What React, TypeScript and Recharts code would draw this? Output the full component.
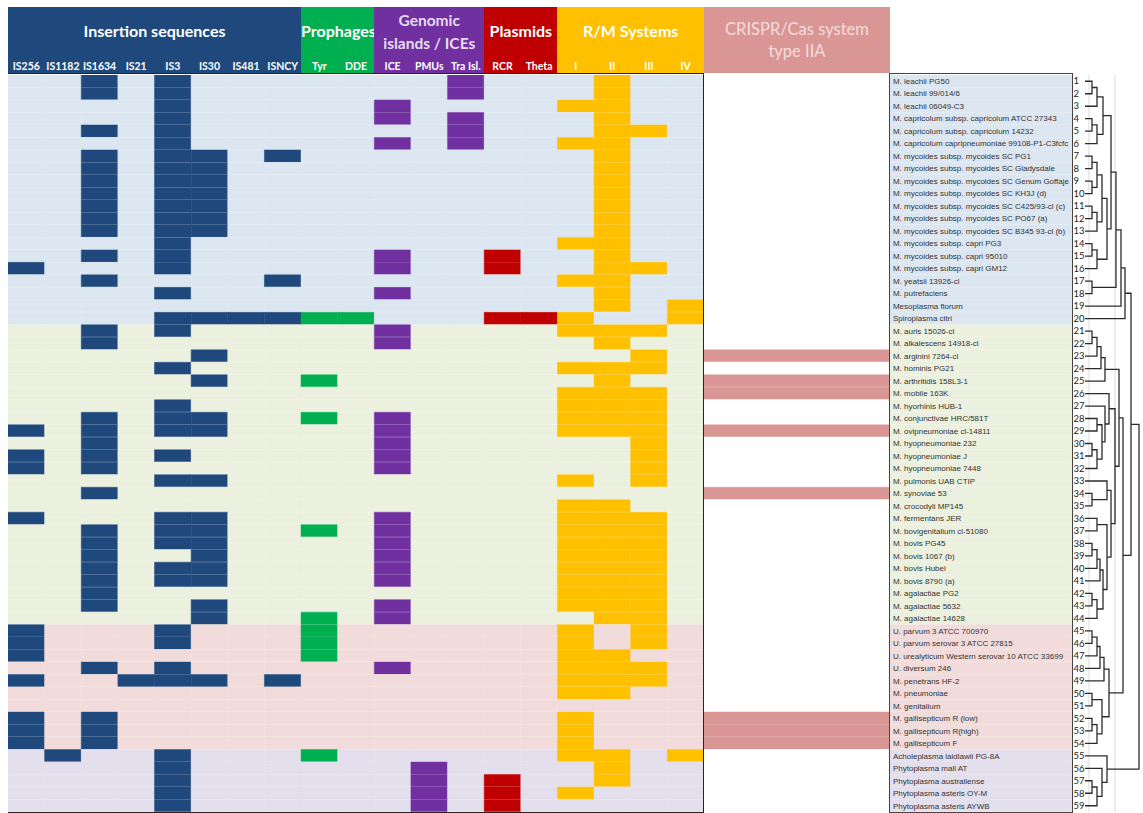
import React from 'react';
import { BarChart, Bar, XAxis, YAxis, Cell, LabelList, LineChart, Line, ReferenceLine } from 'recharts';

const organisms = [
  'M.  leachii PG50', 'M.  leachii 99/014/6', 'M.  leachii 06049-C3',
  'M.  capricolum subsp. capricolum ATCC 27343', 'M.  capricolum subsp. capricolum 14232',
  'M.  capricolum capripneumoniae 99108-P1-C3fcfc', 'M.  mycoides subsp. mycoides SC PG1',
  'M.  mycoides subsp. mycoides SC Gladysdale', 'M.  mycoides subsp. mycoides SC Genum Goffaje',
  'M.  mycoides subsp. mycoides SC KH3J (d)', 'M.  mycoides subsp. mycoides SC C425/93-cl (c)',
  'M.  mycoides subsp. mycoides SC PO67 (a)', 'M.  mycoides subsp. mycoides SC B345 93-cl (b)',
  'M.  mycoides subsp. capri PG3', 'M.  mycoides subsp. capri 95010', 'M.  mycoides subsp. capri GM12',
  'M.  yeatsii 13926-cl', 'M.  putrefaciens', 'Mesoplasma florum', 'Spiroplasma citri',
  'M.  auris 15026-cl', 'M.  alkalescens 14918-cl', 'M.  arginini 7264-cl', 'M.  hominis PG21',
  'M.  arthritidis 158L3-1', 'M.  mobile 163K', 'M.  hyorhinis HUB-1', 'M.  conjunctivae HRC/581T',
  'M.  ovipneumoniae cl-14811', 'M.  hyopneumoniae 232', 'M.  hyopneumoniae J', 'M.  hyopneumoniae 7448',
  'M.  pulmonis UAB CTIP', 'M.  synoviae 53', 'M.  crocodyli MP145', 'M.  fermentans JER',
  'M.  bovigenitalium cl-51080', 'M.  bovis PG45', 'M.  bovis 1067 (b)', 'M.  bovis Hubei',
  'M.  bovis 8790 (a)', 'M.  agalactiae PG2', 'M.  agalactiae 5632', 'M.  agalactiae 14628',
  'U.   parvum 3 ATCC 700970', 'U.   parvum serovar 3 ATCC 27815',
  'U.   urealyticum Western serovar 10 ATCC 33699', 'U.   diversum 246', 'M.  penetrans HF-2',
  'M.  pneumoniae', 'M.  genitalium', 'M.  gallisepticum R (low)', 'M.  gallisepticum R(high)',
  'M.  gallisepticum F', 'Acholeplasma laidlawii PG-8A', 'Phytoplasma mali AT',
  'Phytoplasma australiense', 'Phytoplasma asteris OY-M', 'Phytoplasma asteris AYWB',
];

const groupSizes = [20, 24, 10, 5];
const groupBackgrounds = ['#dce6f1', '#ebf1de', '#f2dcdb', '#e4dfec'];

const featureNames = ['IS256', 'IS1182', 'IS1634', 'IS21', 'IS3', 'IS30', 'IS481', 'ISNCY', 'Tyr', 'DDE',
  'ICE', 'PMUs', 'Tra Isl.', 'RCR', 'Theta', 'I', 'II', 'III', 'IV', 'CRISPR'];
const featureColors = ['#1f497d', '#1f497d', '#1f497d', '#1f497d', '#1f497d', '#1f497d', '#1f497d', '#1f497d',
  '#00b050', '#00b050', '#7030a0', '#7030a0', '#7030a0', '#c00000', '#c00000',
  '#ffc000', '#ffc000', '#ffc000', '#ffc000', '#da9694'];

// organism numbers (1-based) carrying each element
const is256Rows = [16, 29, 31, 32, 36, 45, 46, 47, 49, 52, 53, 54];
const is1182Rows = [55];
const is1634Rows = [1, 2, 5, 7, 8, 9, 10, 11, 12, 13, 15, 17, 21, 22, 28, 29, 30, 31, 32, 34, 37, 38, 39, 40, 41, 42, 43, 48, 52, 53, 54];
const is21Rows = [49];
const is3Rows = [1, 2, 3, 4, 5, 6, 7, 8, 9, 10, 11, 12, 13, 14, 15, 16, 18, 20, 21, 24, 27, 28, 29, 31, 33, 36, 37, 38, 40, 41, 45, 46, 48, 49, 55, 56, 57, 58, 59];
const is30Rows = [7, 8, 9, 10, 11, 12, 13, 20, 23, 25, 28, 29, 33, 36, 37, 38, 39, 40, 41, 43, 44, 49];
const is481Rows = [20];
const isncyRows = [7, 17, 20, 49];
const tyrRows = [20, 25, 28, 37, 44, 45, 46, 47, 55];
const ddeRows = [20];
const iceRows = [3, 4, 6, 15, 16, 18, 21, 22, 28, 29, 30, 31, 32, 36, 37, 38, 39, 40, 41, 43, 44, 48];
const pmuRows = [56, 57, 58, 59];
const traIslRows = [1, 2, 4, 5, 6];
const rcrRows = [15, 16, 20, 57, 58, 59];
const thetaRows = [20];
const rmIRows = [3, 6, 14, 17, 20, 21, 24, 26, 27, 28, 29, 33, 35, 36, 37, 38, 39, 40, 41, 42, 43, 45, 46, 47, 48, 49, 50, 52, 53, 54, 55, 58];
const rmIIRows = [1, 2, 3, 4, 5, 6, 7, 8, 9, 10, 11, 12, 13, 14, 15, 16, 17, 18, 19, 21, 22, 24, 25, 26, 27, 28, 29, 35, 36, 37, 38, 39, 40, 41, 42, 43, 44, 47, 48, 49, 50, 55, 56, 57];
const rmIIIRows = [5, 16, 21, 23, 24, 26, 27, 28, 29, 30, 31, 32, 33, 36, 37, 38, 39, 40, 41, 42, 43, 44, 45, 46, 48, 49];
const rmIVRows = [19, 20, 55];
const crisprRows = [23, 25, 26, 29, 34, 52, 53, 54];

const presenceRows = [is256Rows, is1182Rows, is1634Rows, is21Rows, is3Rows, is30Rows, is481Rows, isncyRows,
  tyrRows, ddeRows, iceRows, pmuRows, traIslRows, rcrRows, thetaRows, rmIRows, rmIIRows, rmIIIRows, rmIVRows, crisprRows];

// dendrogram: [left, right, joinLevel]; leaves are organism numbers
type Node = number | [Node, Node, number];
const dendroTree: Node = [
  [
    [
      [
        [
          [[[1, 2, 7], 3, 12], [[4, 5, 7], 6, 12], 18],
          [[[[7, 8, 7], [9, 10, 7], 12], [[11, 12, 7], 13, 12], 17], [[14, 15, 7], 16, 12], 22],
          26,
        ],
        [17, 18, 7],
        31,
      ],
      19, 36,
    ],
    20, 40,
  ],
  [
    [
      [[[[21, 22, 7], 23, 12], 24, 16], 25, 20],
      [
        [26, [27, [[28, 29, 12], [[30, 31, 7], 32, 12], 17], 20], 24],
        [[33, [34, 35, 7], 22], [[36, 37, 12], [[[[38, 39, 7], 40, 12], 41, 15], [[42, 43, 7], 44, 12], 18], 22], 26],
        30,
      ],
      34,
    ],
    [[[[[45, 46, 7], 47, 12], 48, 15], 49, 19], [[50, 51, 7], [[52, 53, 7], 54, 12], 17], 24],
    38,
  ],
  46,
];
const phytoTree: Node = [55, [56, [[57, 58, 7], 59, 12], 17], 22];
const rootLevel = 54;

const GENE_W = 36.63;
const CRISPR_W = 186;
const LABEL_W = 182;
const NUM_W = 13;
const TOTAL_W = GENE_W * 19 + CRISPR_W + LABEL_W + NUM_W;

const groupOfRow = (idx: number) => {
  let acc = 0;
  for (let g = 0; g < groupSizes.length; g++) {
    acc += groupSizes[g];
    if (idx < acc) return g;
  }
  return groupSizes.length - 1;
};

const tableData = organisms.map((name, i) => {
  const row: Record<string, any> = { id: i + 1, name };
  featureNames.forEach((_, c) => {
    row['f' + c] = c === 19 ? CRISPR_W : GENE_W;
  });
  row.label = LABEL_W;
  row.num = NUM_W;
  return row;
});

type Pt = { x: number; y: number };
const segments: Pt[][] = [];
const walk = (n: Node): { y: number; lvl: number } => {
  if (typeof n === 'number') return { y: n, lvl: 0 };
  const a = walk(n[0]);
  const b = walk(n[1]);
  segments.push([
    { x: a.lvl, y: a.y }, { x: n[2], y: a.y }, { x: n[2], y: b.y }, { x: b.lvl, y: b.y },
  ]);
  return { y: (a.y + b.y) / 2, lvl: n[2] };
};
const rootNode: Node = [dendroTree, phytoTree, rootLevel];
walk(rootNode);

const HFONT = 'Lato, "Open Sans", sans-serif';

const headerGroups = [
  { title: ['Insertion sequences'], left: 8, width: GENE_W * 8, bg: '#1f497d', color: '#ffffff', cols: [0, 8] },
  { title: ['Prophages'], left: 8 + GENE_W * 8, width: GENE_W * 2, bg: '#00b050', color: '#ffffff', cols: [8, 10] },
  { title: ['Genomic', 'islands / ICEs'], left: 8 + GENE_W * 10, width: GENE_W * 3, bg: '#7030a0', color: '#e6dcef', cols: [10, 13] },
  { title: ['Plasmids'], left: 8 + GENE_W * 13, width: GENE_W * 2, bg: '#c00000', color: '#ffffff', cols: [13, 15] },
  { title: ['R/M Systems'], left: 8 + GENE_W * 15, width: GENE_W * 4, bg: '#ffc000', color: '#ffffff', cols: [15, 19] },
];

const LabelText = (props: any) => {
  const { x, y, height, value } = props;
  return (
    <text x={x + 3} y={y + height / 2 + 3} fontSize={8} fill="#333" fontFamily='"Liberation Sans", Arial, sans-serif'>
      {value}
    </text>
  );
};
const NumText = (props: any) => {
  const { x, y, height, value } = props;
  return (
    <text x={x + 1.5} y={y + height / 2 + 3.5} fontSize={9.5} fill="#222" fontFamily={HFONT}>
      {value}
    </text>
  );
};

export default function App() {
  return (
    <div style={{ position: 'absolute', left: 0, top: 0, width: 1143, height: 813, background: '#ffffff', overflow: 'hidden' }}>
      {headerGroups.map((g) => (
        <div key={g.title.join(' ')} style={{ position: 'absolute', left: g.left, top: 7, width: g.width, height: 66, background: g.bg, fontFamily: HFONT, fontWeight: 700 }}>
          {g.title.length === 1 ? (
            <div style={{ position: 'absolute', left: 0, width: '100%', top: 14, textAlign: 'center', color: g.color, fontSize: 16 }}>{g.title[0]}</div>
          ) : (
            <>
              <div style={{ position: 'absolute', left: 0, width: '100%', top: 4, textAlign: 'center', color: g.color, fontSize: 15.5 }}>{g.title[0]}</div>
              <div style={{ position: 'absolute', left: 0, width: '100%', top: 27, textAlign: 'center', color: g.color, fontSize: 15.5 }}>{g.title[1]}</div>
            </>
          )}
          {featureNames.slice(g.cols[0], g.cols[1]).map((f, k) => (
            <div key={f} style={{ position: 'absolute', left: k * GENE_W, width: GENE_W, top: 53, textAlign: 'center', color: '#ffffff', fontSize: 10.5 }}>{f}</div>
          ))}
        </div>
      ))}
      <div style={{ position: 'absolute', left: 8 + GENE_W * 19, top: 7, width: CRISPR_W, height: 66, background: '#da9694', fontFamily: HFONT, color: '#f4dedd', fontSize: 16.5, textAlign: 'center', lineHeight: '22px', paddingTop: 11, boxSizing: 'border-box' }}>
        CRISPR/Cas system<br />type IIA
      </div>

      <div style={{ position: 'absolute', left: 8, top: 75 }}>
        <BarChart width={TOTAL_W} height={737} data={tableData} layout="vertical" margin={{ top: 0, right: 0, bottom: 0, left: 0 }} barCategoryGap={0} barGap={0}>
          <XAxis type="number" domain={[0, TOTAL_W]} hide />
          <YAxis type="category" dataKey="id" hide />
          {featureNames.map((f, c) => (
            <Bar key={f} dataKey={'f' + c} stackId="grid" isAnimationActive={false}>
              {tableData.map((r, i) => {
                const on = presenceRows[c].includes(r.id);
                const fill = on ? featureColors[c] : c === 19 ? '#ffffff' : groupBackgrounds[groupOfRow(i)];
                return <Cell key={i} fill={fill} stroke={fill} strokeWidth={0.5} />;
              })}
            </Bar>
          ))}
          <Bar dataKey="label" stackId="grid" isAnimationActive={false}>
            {tableData.map((r, i) => {
              const fill = groupBackgrounds[groupOfRow(i)];
              return <Cell key={i} fill={fill} stroke={fill} strokeWidth={0.5} />;
            })}
            <LabelList dataKey="name" content={LabelText} />
          </Bar>
          <Bar dataKey="num" stackId="grid" isAnimationActive={false} fill="#ffffff">
            <LabelList dataKey="id" content={NumText} />
          </Bar>
        </BarChart>
      </div>

      <div style={{ position: 'absolute', left: 8, top: 73, width: GENE_W * 19 - 1, height: 738, border: '1px solid #222', borderLeft: 'none', pointerEvents: 'none' }} />
      <div style={{ position: 'absolute', left: 8 + GENE_W * 19 + CRISPR_W - 1, top: 73, width: LABEL_W, height: 738, border: '1px solid #444', pointerEvents: 'none' }} />

      <div style={{ position: 'absolute', left: 1085, top: 75 }}>
        <LineChart width={58} height={737} margin={{ top: 0, right: 0, bottom: 0, left: 0 }}>
          <XAxis type="number" dataKey="x" domain={[0, 58]} hide />
          <YAxis type="number" domain={[0.5, 59.5]} reversed hide />
          <ReferenceLine x={4} stroke="#d9d9d9" />
          <ReferenceLine x={30} stroke="#d9d9d9" />
          {segments.map((s, k) => (
            <Line key={k} data={s} dataKey="y" stroke="#2b2b2b" strokeWidth={1.3} dot={false} isAnimationActive={false} />
          ))}
        </LineChart>
      </div>
    </div>
  );
}
